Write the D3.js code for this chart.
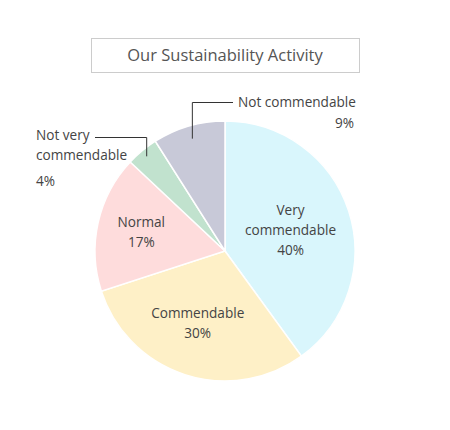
<!DOCTYPE html>
<html>
<head>
<meta charset="utf-8">
<script src="https://cdn.jsdelivr.net/npm/d3@7"></script>
<style>
  body { margin: 0; background: #fff; }
  text { font-family: "Open Sans", sans-serif; fill: #444; font-size: 13.6px; }
</style>
</head>
<body>
<div id="chart"></div>
<script>
// chart data
var categories = ["Very commendable", "Commendable", "Normal", "Not very commendable", "Not commendable"];
var values = [40, 30, 17, 4, 9];
var colors = ["#d9f6fc", "#fef0c7", "#fedcdc", "#c1e2ce", "#c8c9d8"];

var width = 450, height = 430;
var cx = 225, cy = 251, radius = 130;

var svg = d3.select("#chart").append("svg")
    .attr("width", width)
    .attr("height", height);

// title box
svg.append("rect")
    .attr("x", 91.5).attr("y", 38.5)
    .attr("width", 268).attr("height", 34)
    .attr("fill", "none").attr("stroke", "#ccc");
svg.append("text")
    .attr("x", 225).attr("y", 61)
    .attr("text-anchor", "middle")
    .style("font-size", "16.5px")
    .style("fill", "#555")
    .text("Our Sustainability Activity");

var pie = d3.pie().sort(null).value(function(d) { return d; });
var arc = d3.arc().innerRadius(0).outerRadius(radius);
var arcs = pie(values);

var g = svg.append("g").attr("transform", "translate(" + cx + "," + cy + ")");

g.selectAll("path")
    .data(arcs)
    .enter().append("path")
    .attr("d", arc)
    .attr("fill", function(d, i) { return colors[i]; })
    .attr("stroke", "#fff")
    .attr("stroke-width", 1.5);

function at(i, f) {
  var a = arcs[i], m = (a.startAngle + a.endAngle) / 2;
  return [Math.sin(m) * radius * f, -Math.cos(m) * radius * f];
}

// inner labels
var inner = [
  {i: 0, lines: ["Very", "commendable", values[0] + "%"], r: 0.53, dx: 0},
  {i: 1, lines: ["Commendable", values[1] + "%"], r: 0.58, dx: -4},
  {i: 2, lines: ["Normal", values[2] + "%"], r: 0.66, dx: 0}
];

var lineH = 20;
inner.forEach(function(l) {
  var p = at(l.i, l.r);
  var t = g.append("text").attr("text-anchor", "middle");
  l.lines.forEach(function(s, k) {
    t.append("tspan")
      .attr("x", p[0] + l.dx)
      .attr("y", p[1] + (k - (l.lines.length - 1) / 2) * lineH + 5)
      .text(s);
  });
});

// outer labels with leader lines
var lead = g.append("g").attr("fill", "none").attr("stroke", "#333").attr("stroke-width", 1);

// Not commendable
var p4 = at(4, 0.9);
lead.append("path")
    .attr("d", "M" + p4[0] + "," + p4[1] + "V" + (-148.5) + "H" + 8);
g.append("text")
    .attr("x", 13).attr("y", -144)
    .text(categories[4]);
g.append("text")
    .attr("x", 129).attr("y", -123)
    .attr("text-anchor", "end")
    .text(values[4] + "%");

// Not very commendable
var p3 = at(3, 0.945);
lead.append("path")
    .attr("d", "M" + p3[0] + "," + p3[1] + "V" + (-113.5) + "H" + (-130));
var t3 = g.append("text");
t3.append("tspan").attr("x", -189).attr("y", -111).text("Not very");
t3.append("tspan").attr("x", -189).attr("y", -91).text("commendable");
g.append("text")
    .attr("x", -189).attr("y", -65)
    .text(values[3] + "%");
</script>
</body>
</html>
